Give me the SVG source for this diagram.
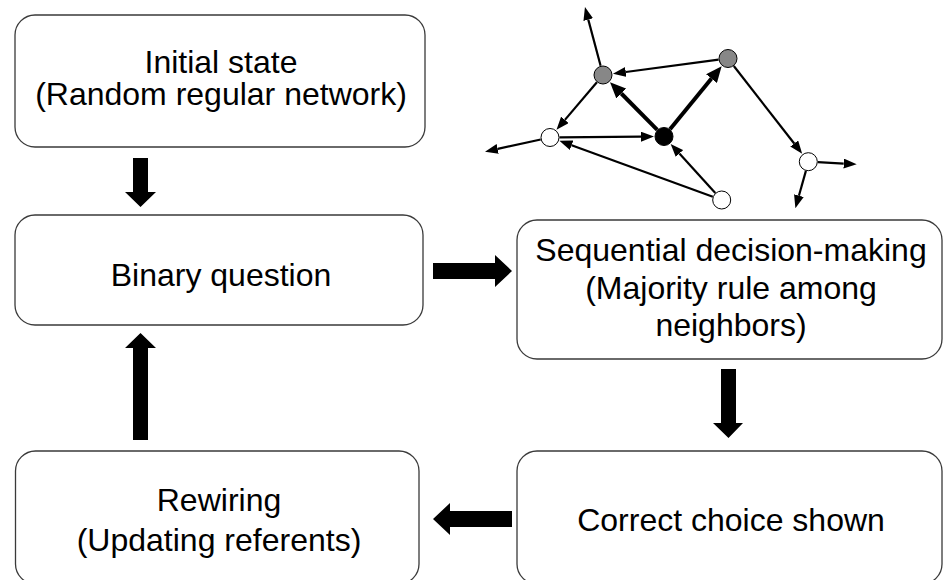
<svg xmlns="http://www.w3.org/2000/svg" width="943" height="580" viewBox="0 0 943 580">
<defs>
<style>
.box{fill:#fff;stroke:#3a3a3a;stroke-width:1.3}
.lbl{font-family:"Liberation Sans",Arial,sans-serif;font-size:32px;fill:#000;text-anchor:middle}
.blk{fill:#000}
.e{stroke:#000;stroke-width:2.2;fill:none;marker-end:url(#ah)}
.et{stroke:#000;stroke-width:4;fill:none;marker-end:url(#aht)}
.nd{stroke:#000;stroke-width:1}
</style>
<marker id="ah" viewBox="0 0 13 10" refX="0" refY="5" markerWidth="13" markerHeight="10" markerUnits="userSpaceOnUse" orient="auto"><path d="M0,0 L13,5 L0,10 z" fill="#000"/></marker>
<marker id="aht" viewBox="0 0 16 14" refX="0" refY="7" markerWidth="16" markerHeight="14" markerUnits="userSpaceOnUse" orient="auto"><path d="M0,0 L16,7 L0,14 z" fill="#000"/></marker>
</defs>
<rect width="943" height="580" fill="#fff"/>

<g id="initial">
<rect class="box" x="15" y="15" width="410" height="132" rx="20"/>
<text class="lbl" x="221" y="73">Initial state</text>
<text class="lbl" x="221" y="105">(Random regular network)</text>
</g>
<g id="binary">
<rect class="box" x="15" y="215" width="408" height="110" rx="20"/>
<text class="lbl" x="221" y="286">Binary question</text>
</g>
<g id="rewiring">
<rect class="box" x="15.5" y="451" width="403.5" height="133" rx="20"/>
<text class="lbl" x="219" y="510.5">Rewiring</text>
<text class="lbl" x="219" y="550.5">(Updating referents)</text>
</g>
<g id="sequential">
<rect class="box" x="517" y="220" width="425" height="139" rx="20"/>
<text class="lbl" x="731" y="261">Sequential decision-making</text>
<text class="lbl" x="731" y="298.5">(Majority rule among</text>
<text class="lbl" x="731" y="336">neighbors)</text>
</g>
<g id="correct">
<rect class="box" x="517" y="451" width="425" height="133" rx="20"/>
<text class="lbl" x="731" y="531">Correct choice shown</text>
</g>

<g id="connectors">
<polygon class="blk" points="133,158 148,158 148,192 156,192 140.5,207 125,192 133,192"/>
<polygon class="blk" points="433,263 495,263 495,255 512,271 495,287 495,279 433,279"/>
<polygon class="blk" points="721,369 736,369 736,423 743,423 728.5,438 713,423 721,423"/>
<polygon class="blk" points="512,511 450,511 450,503 433,519 450,535 450,527 512,527"/>
<polygon class="blk" points="133,440 148,440 148,348 156,348 140.5,333 125,348 133,348"/>
</g>

<g id="network">
<g id="network-edges">
<line class="e" x1="600.6" y1="65.8" x2="588.3" y2="19.6"/>
<line class="e" x1="718.6" y1="59.7" x2="625.8" y2="72"/>
<line class="e" x1="596.9" y1="82.2" x2="564.9" y2="119.9"/>
<line class="et" x1="657.3" y1="129.8" x2="621.3" y2="93.5"/>
<line class="et" x1="670" y1="129.2" x2="711.5" y2="78.6"/>
<line class="e" x1="559.5" y1="137.4" x2="641" y2="136.7"/>
<line class="e" x1="712.8" y1="196.8" x2="571.6" y2="145.3"/>
<line class="e" x1="715.3" y1="193" x2="679.4" y2="153.5"/>
<line class="e" x1="733.8" y1="66" x2="794.2" y2="143.5"/>
<line class="e" x1="540.7" y1="139.5" x2="497.7" y2="148.9"/>
<line class="e" x1="817.8" y1="162.2" x2="843.7" y2="163.6"/>
<line class="e" x1="805.9" y1="170.9" x2="798.9" y2="195.7"/>
</g>
<g id="nodeA"><circle class="nd" cx="603" cy="75" r="9" fill="#878787"/></g>
<g id="nodeB"><circle class="nd" cx="728" cy="58.5" r="9" fill="#878787"/></g>
<g id="nodeC"><circle class="nd" cx="550" cy="137.5" r="9" fill="#fff"/></g>
<g id="nodeD"><circle class="nd" cx="664" cy="136.5" r="9" fill="#000"/></g>
<g id="nodeE"><circle class="nd" cx="808.3" cy="161.7" r="9" fill="#fff"/></g>
<g id="nodeF"><circle class="nd" cx="721.7" cy="200" r="9" fill="#fff"/></g>
</g>
</svg>
